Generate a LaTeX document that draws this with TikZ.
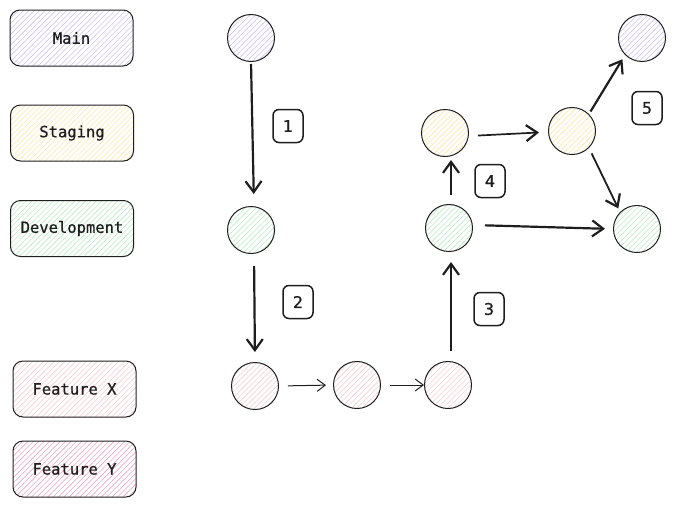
\documentclass[tikz,border=0pt]{standalone}
\usepackage{fontspec}
\newfontfamily\monofont[UprightFeatures={FakeBold=0.7}]{DejaVu Sans Mono}
\newfontfamily\handfont[UprightFeatures={FakeBold=0.9}]{DejaVu Sans}
\usetikzlibrary{patterns.meta,arrows.meta}
\definecolor{cmain}{HTML}{CFC3F8}
\definecolor{cstage}{HTML}{FBE7A8}
\definecolor{cdev}{HTML}{B9EDC2}
\definecolor{cfx}{HTML}{F8CCD6}
\definecolor{cfy}{HTML}{F2A6BF}
\definecolor{ink}{HTML}{1E1E1E}
\tikzset{
  hatch/.style={pattern={Lines[angle=45,distance=3.8pt,line width=0.6pt]},pattern color=#1},
  legend/.style={draw=ink,line width=1pt,rounded corners=10pt,minimum width=123pt,minimum height=56pt,font=\monofont\fontsize{15.5}{17}\selectfont,text=ink},
  commit/.style={circle,draw=ink,line width=1pt,minimum size=47pt,inner sep=0pt},
  numbox/.style={draw=ink,line width=1.5pt,rounded corners=6pt,minimum width=30pt,minimum height=33pt,font=\handfont\fontsize{16}{18}\selectfont,text=ink},
  bigarrow/.style={draw=ink,line width=2.2pt,-{Straight Barb[length=11pt,width=16pt,line width=2.2pt]}},
  smallarrow/.style={draw=ink,line width=1pt,-{Straight Barb[length=8pt,width=12pt,line width=1pt]}},
}
\begin{document}
\begin{tikzpicture}[x=1pt,y=-1pt]
\useasboundingbox (0,0) rectangle (675,507);
% legend
\node[legend,hatch=cmain] (lmain) at (71.5,38) {Main};
\node[legend,hatch=cstage] (lstage) at (72,133) {Staging};
\node[legend,hatch=cdev] (ldev) at (72,228.5) {Development};
\node[legend,hatch=cfx] (lfx) at (74.5,389) {Feature X};
\node[legend,hatch=cfy] (lfy) at (74.5,469) {Feature Y};
% commits
\node[commit,hatch=cmain] (m1) at (251,38) {};
\node[commit,hatch=cdev] (d1) at (251,230) {};
\node[commit,hatch=cfx] (x1) at (255,386) {};
\node[commit,hatch=cfx] (x2) at (357,385) {};
\node[commit,hatch=cfx] (x3) at (448,385) {};
\node[commit,hatch=cdev] (d2) at (449,228) {};
\node[commit,hatch=cstage] (s1) at (445,133) {};
\node[commit,hatch=cstage] (s2) at (572,131) {};
\node[commit,hatch=cmain] (m2) at (642,38) {};
\node[commit,hatch=cdev] (d3) at (637,229) {};
% number boxes
\node[numbox] (n1) at (288,126) {1};
\node[numbox] (n2) at (298,302) {2};
\node[numbox] (n3) at (489,309) {3};
\node[numbox] (n4) at (490,181) {4};
\node[numbox] (n5) at (647,108) {5};
% arrows
\draw[bigarrow,shorten <=2pt,shorten >=12pt] (m1.south) -- ([xshift=3pt]d1.north);
\draw[bigarrow,shorten <=12pt,shorten >=10pt] ([xshift=3pt]d1.south) -- (x1.north);
\draw[smallarrow,shorten <=9pt,shorten >=7pt] (x1.east) -- (x2.west);
\draw[smallarrow,shorten <=9pt,shorten >=0pt] (x2.east) -- (x3.west);
\draw[bigarrow,shorten <=10pt,shorten >=10pt] ([xshift=3pt]x3.north) -- ([xshift=2pt]d2.south);
\draw[bigarrow,line width=1.7pt,shorten <=9pt,shorten >=3pt] ([xshift=2pt]d2.north) -- ([xshift=6pt]s1.south);
\draw[bigarrow,line width=1.7pt,shorten <=9pt,shorten >=9pt] ([yshift=-3pt]s1.east) -- ([yshift=-1pt]s2.west);
\draw[bigarrow,shorten <=12pt,shorten >=8pt] ([yshift=3pt]d2.east) -- (d3.west);
\draw[bigarrow,shorten <=3pt,shorten >=5pt] (s2.north east) -- (m2.south west);
\draw[bigarrow,line width=1.8pt,shorten <=6pt,shorten >=4pt] (s2.south east) -- (d3.north west);
\end{tikzpicture}
\end{document}
